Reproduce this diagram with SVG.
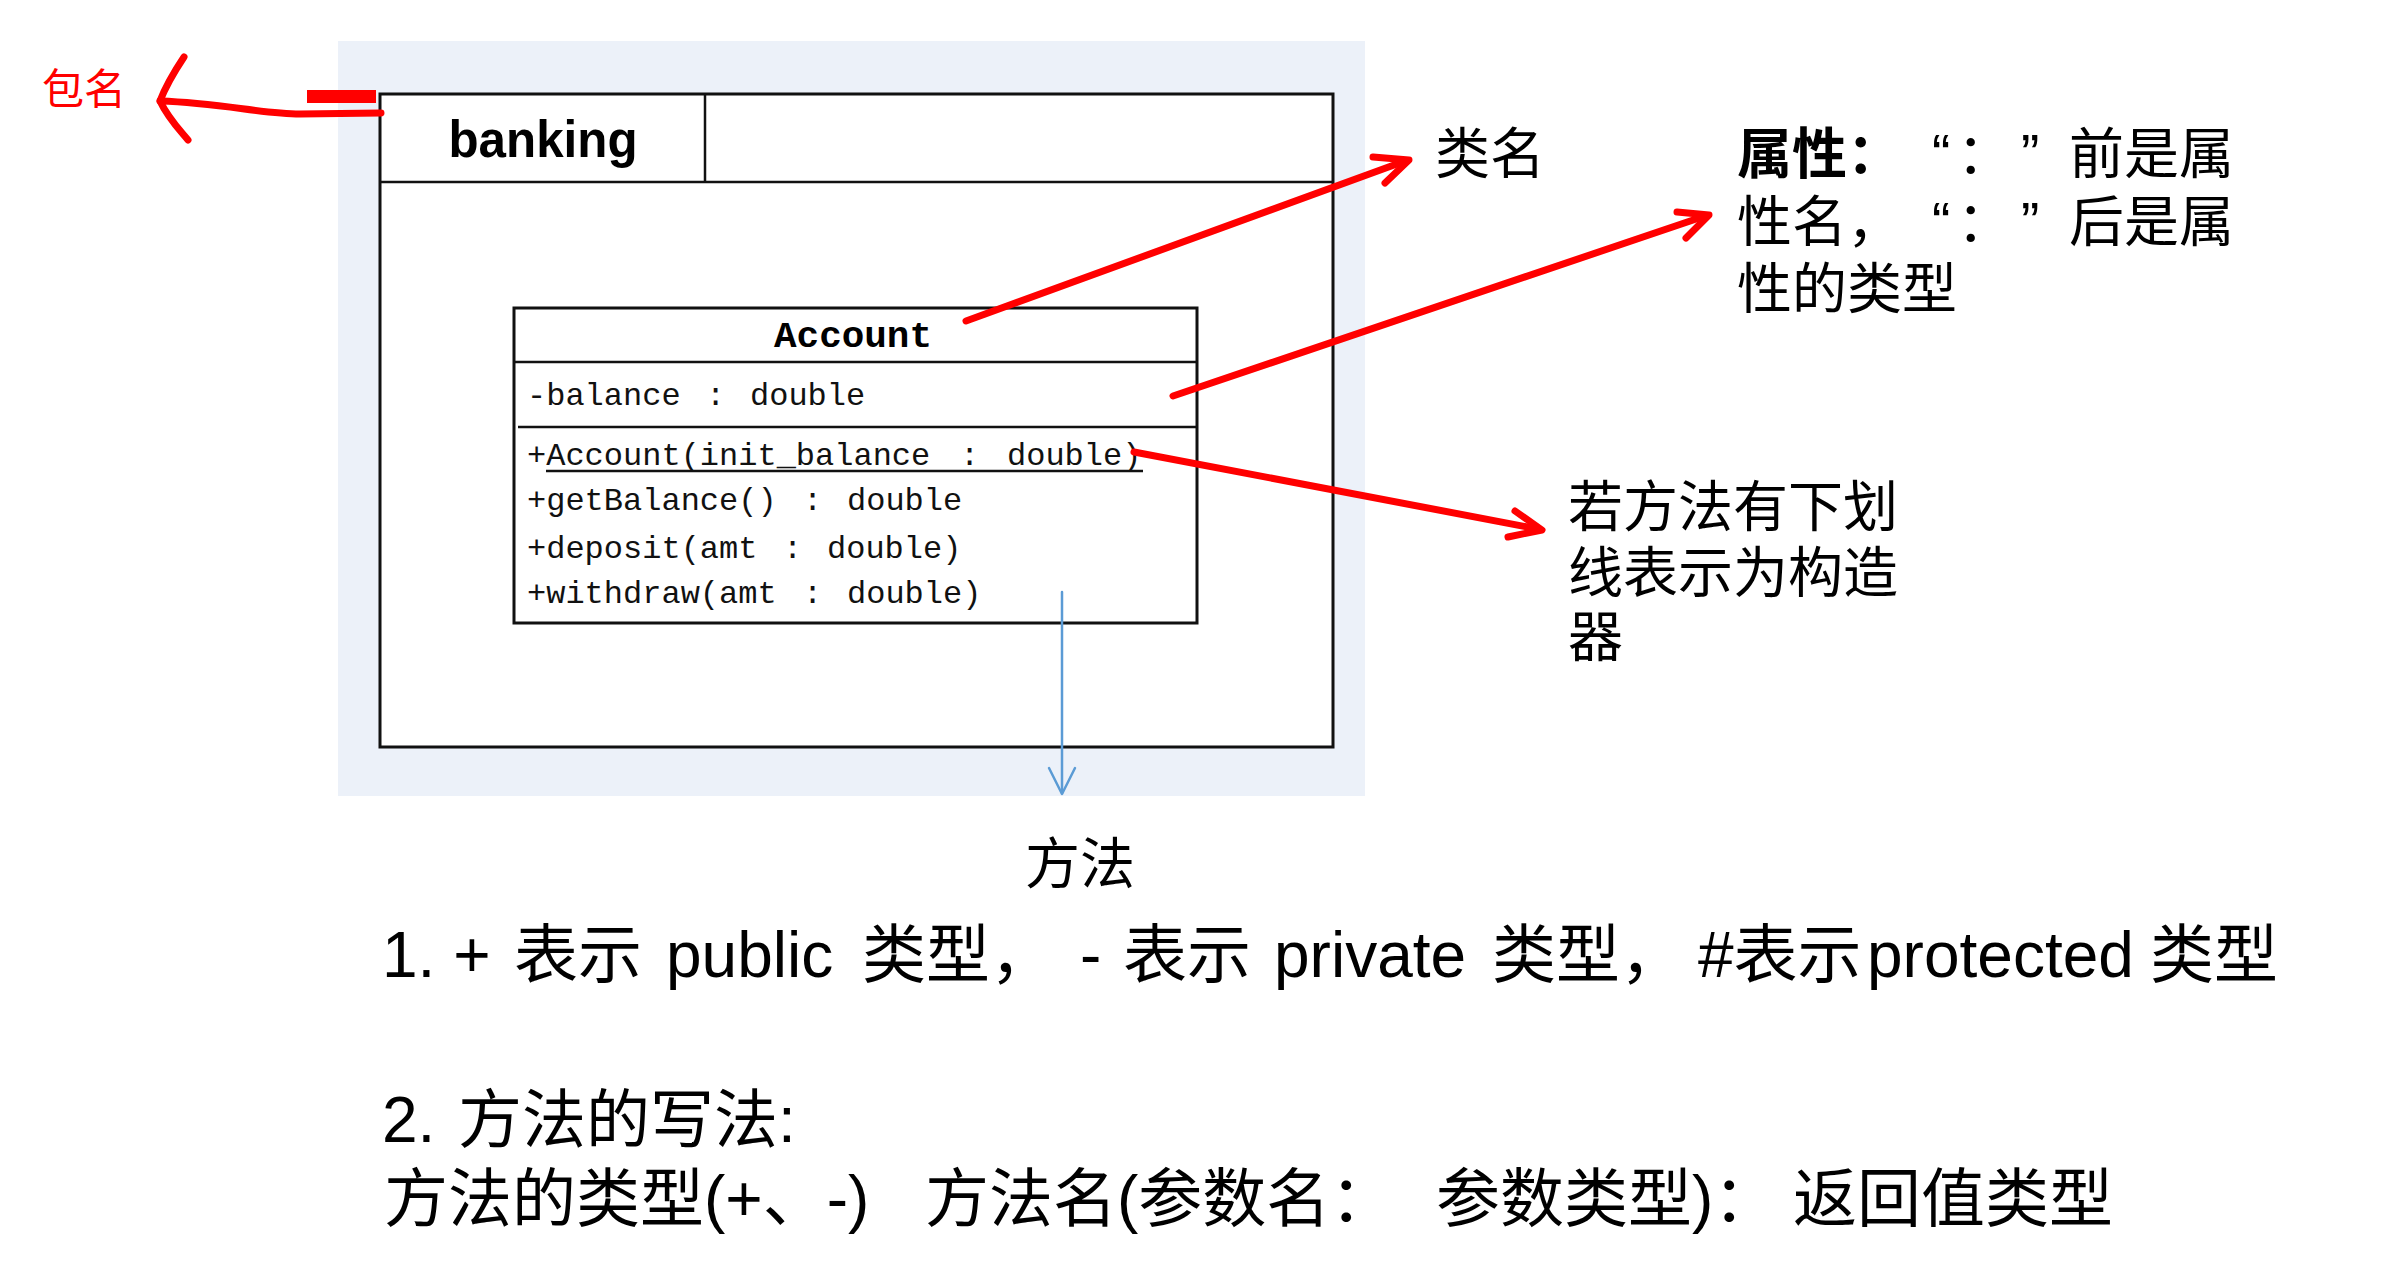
<svg xmlns="http://www.w3.org/2000/svg" width="2382" height="1270" viewBox="0 0 2382 1270">
  <style>
    .box { fill: #ffffff; stroke: #111111; stroke-width: 3; }
    .thin { stroke: #111111; stroke-width: 2.5; fill: none; }
    .mono { font-family: "Liberation Mono", "DejaVu Sans Mono", monospace; font-size: 32px; fill: #111111; }
    .cjk { font-family: "Liberation Sans", "Noto Sans CJK SC", sans-serif; fill: #000000; }
    .zh { font-family: "Noto Sans CJK SC", sans-serif; fill: #000000; }
    .note { font-size: 55px; }
    .big { font-size: 64px; }
    .red { stroke: #ff0000; stroke-width: 7; fill: none; stroke-linecap: round; stroke-linejoin: round; }
    .blue { stroke: #5b9bd5; stroke-width: 2.5; fill: none; stroke-linecap: round; stroke-linejoin: round; }
  </style>

  <rect x="0" y="0" width="2382" height="1270" fill="#ffffff"/>

  <!-- light blue backdrop -->
  <rect id="backdrop" x="338" y="41" width="1027" height="755" fill="#ecf1f9"/>

  <!-- package node -->
  <g id="package-banking">
    <rect class="box" x="380" y="94" width="953" height="653"/>
    <line class="thin" x1="380" y1="182" x2="1333" y2="182" stroke-width="3"/>
    <line class="thin" x1="705" y1="94" x2="705" y2="182" stroke-width="2"/>
    <text x="543" y="157" text-anchor="middle" font-family="Liberation Sans, Arial, sans-serif" font-weight="bold" font-size="52" textLength="189" lengthAdjust="spacingAndGlyphs" fill="#000">banking</text>
  </g>

  <!-- class node -->
  <g id="class-account">
    <rect class="box" x="514" y="308" width="683" height="315" stroke-width="2.5"/>
    <line class="thin" x1="514" y1="362" x2="1197" y2="362"/>
    <line class="thin" x1="518" y1="427" x2="1197" y2="427"/>
    <text x="853" y="347" text-anchor="middle" font-family="Liberation Mono, monospace" font-weight="bold" font-size="36" textLength="158" lengthAdjust="spacingAndGlyphs" fill="#000">Account</text>
    <text class="mono" y="405"><tspan x="527">-balance</tspan><tspan x="706">:</tspan><tspan x="750">double</tspan></text>
    <text class="mono" y="465"><tspan x="527">+Account(init_balance</tspan><tspan x="960">:</tspan><tspan x="1007">double)</tspan></text>
    <line class="thin" x1="546" y1="471" x2="1143" y2="471" stroke-width="2"/>
    <text class="mono" y="510"><tspan x="527">+getBalance()</tspan><tspan x="803">:</tspan><tspan x="847">double</tspan></text>
    <text class="mono" y="558"><tspan x="527">+deposit(amt</tspan><tspan x="783">:</tspan><tspan x="827">double)</tspan></text>
    <text class="mono" y="603"><tspan x="527">+withdraw(amt</tspan><tspan x="803">:</tspan><tspan x="847">double)</tspan></text>
  </g>

  <!-- connectors -->
  <g id="connectors">
    <rect x="307" y="90" width="69" height="13" fill="#ff0000"/>
    <path class="red" stroke-width="10" d="M381,113 L300,114 C262,114 222,103 160,101"/>
    <path class="red" stroke-width="10" d="M184,57 C174,72 165,88 160,101 C168,118 178,128 188,140"/>
    <path class="red" d="M966,321 L1405,161"/>
    <path class="red" d="M1373,157 L1409,160 L1385,183"/>
    <path class="red" d="M1173,396 L1705,216"/>
    <path class="red" d="M1677,212 L1709,215 L1686,238"/>
    <path class="red" d="M1134,452 L1538,529"/>
    <path class="red" d="M1515,511 L1542,530 L1508,537"/>
    <path class="blue" d="M1062,592 L1062,793"/>
    <path class="blue" d="M1049,768 L1062,794 L1075,768"/>
  </g>

  <!-- labels -->
  <g id="label-package">
    <text class="zh" x="42" y="104" font-size="42" style="fill:#ff0000">包名</text>
  </g>
  <g id="label-classname">
    <text class="zh note" x="1435" y="173">类名</text>
  </g>
  <g id="label-attribute">
    <text class="cjk note"><tspan x="1737" y="173" font-weight="bold">属性：</tspan><tspan x="1932" y="173">“</tspan><tspan x="1957" y="173">：</tspan><tspan x="2021" y="173">”</tspan><tspan x="2069" y="173">前是属</tspan><tspan x="1737" y="241">性名，</tspan><tspan x="1932" y="241">“</tspan><tspan x="1957" y="241">：</tspan><tspan x="2021" y="241">”</tspan><tspan x="2069" y="241">后是属</tspan><tspan x="1737" y="308">性的类型</tspan></text>
  </g>
  <g id="label-constructor">
    <text class="cjk note"><tspan x="1568" y="526">若方法有下划</tspan><tspan x="1568" y="592">线表示为构造</tspan><tspan x="1568" y="656">器</tspan></text>
  </g>
  <g id="label-method">
    <text class="zh note" x="1025" y="883">方法</text>
  </g>

  <!-- notes -->
  <g id="notes">
    <text class="cjk big" y="977"><tspan x="382">1. +</tspan><tspan x="514">表示</tspan><tspan x="666">public</tspan><tspan x="862">类型，</tspan><tspan x="1080">-</tspan><tspan x="1123">表示</tspan><tspan x="1274">private</tspan><tspan x="1492">类型，</tspan><tspan x="1698">#表示</tspan><tspan x="1867">protected</tspan><tspan x="2150">类型</tspan></text>
    <text class="cjk big"><tspan x="382" y="1142">2.</tspan><tspan x="458" y="1142">方法的写法:</tspan><tspan x="384" y="1221">方法的类型(+、-)</tspan><tspan x="925" y="1221">方法名(参数名：</tspan><tspan x="1436" y="1221">参数类型)：</tspan><tspan x="1793" y="1221">返回值类型</tspan></text>
  </g>
</svg>
